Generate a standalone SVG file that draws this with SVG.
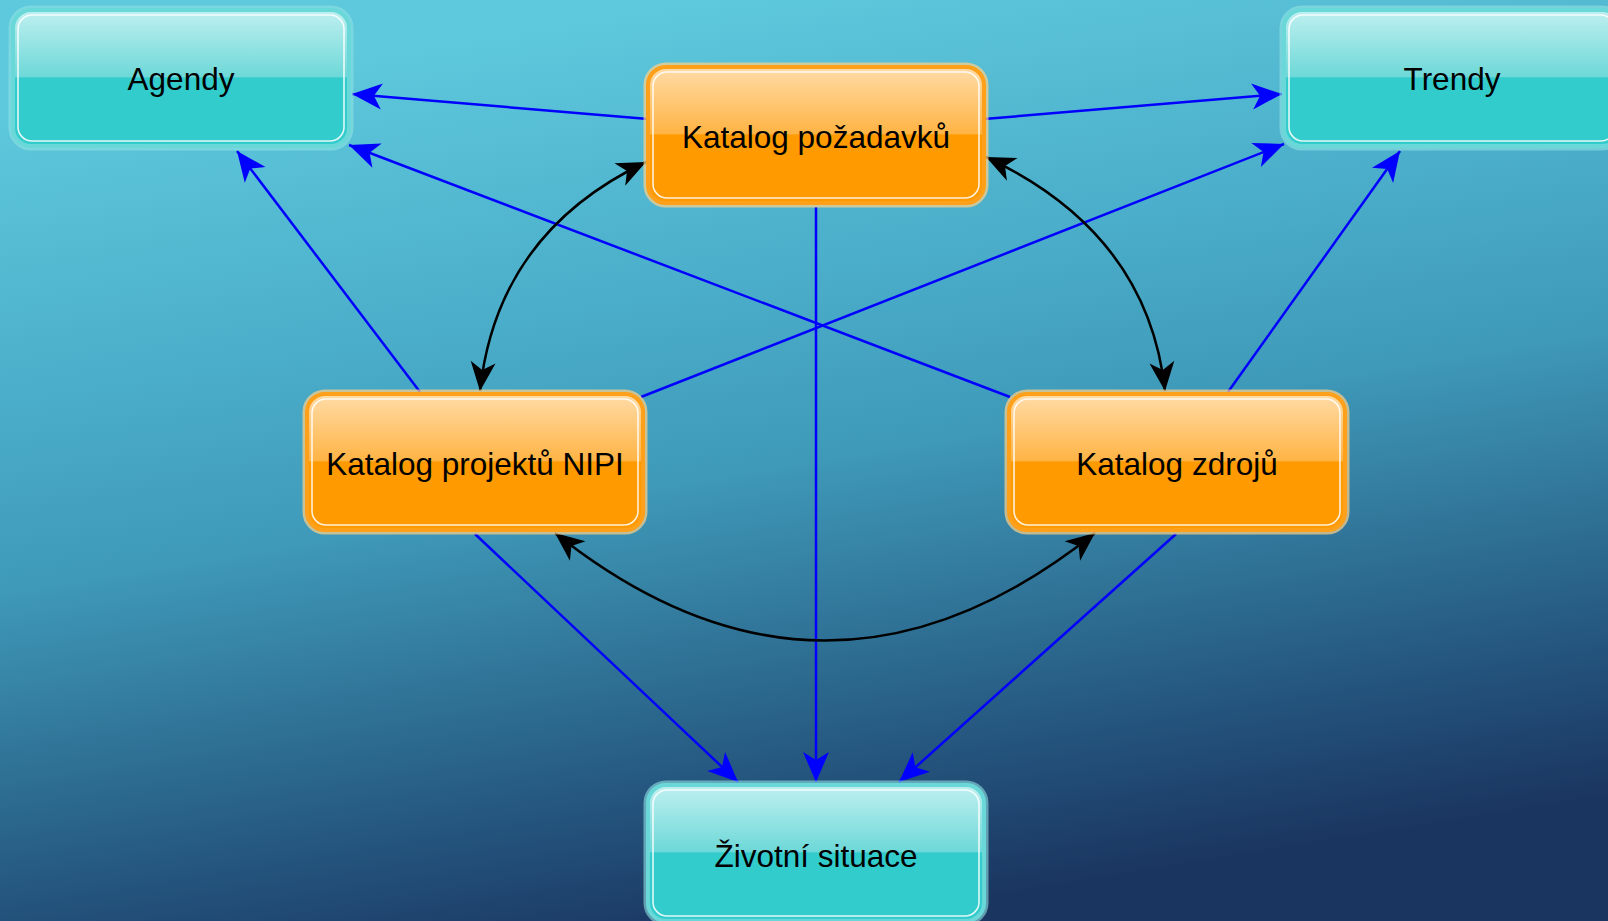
<svg xmlns="http://www.w3.org/2000/svg" width="1608" height="921" viewBox="0 0 1608 921">
  <defs>
    <linearGradient id="bg" gradientUnits="userSpaceOnUse" x1="700" y1="0" x2="850" y2="921">
      <stop offset="0" stop-color="#5ec8dc"/>
      <stop offset="0.33" stop-color="#49abc8"/>
      <stop offset="0.5" stop-color="#3f9ab9"/>
      <stop offset="0.85" stop-color="#23527b"/>
      <stop offset="1" stop-color="#1a3560"/>
    </linearGradient>
    <linearGradient id="teal" x1="0" y1="0" x2="0" y2="1">
      <stop offset="0" stop-color="#c0f0f0"/>
      <stop offset="0.49" stop-color="#6ed8d8"/>
      <stop offset="0.5" stop-color="#33cccc"/>
      <stop offset="1" stop-color="#33cccc"/>
    </linearGradient>
    <linearGradient id="orange" x1="0" y1="0" x2="0" y2="1">
      <stop offset="0" stop-color="#ffdca8"/>
      <stop offset="0.49" stop-color="#ffb445"/>
      <stop offset="0.5" stop-color="#ff9a00"/>
      <stop offset="1" stop-color="#ff9a00"/>
    </linearGradient>
    <marker id="ab" markerUnits="userSpaceOnUse" viewBox="-32 -15 34 30" refX="0" refY="0" markerWidth="34" markerHeight="30" orient="auto">
      <path d="M0,0 L-30,-13 L-22,0 L-30,13 Z" fill="#0000ff"/>
    </marker>
    <marker id="ak" markerUnits="userSpaceOnUse" viewBox="-32 -15 34 30" refX="0" refY="0" markerWidth="34" markerHeight="30" orient="auto-start-reverse">
      <path d="M0,0 L-29,-12.5 L-21,0 L-29,12.5 Z" fill="#000000"/>
    </marker>
  </defs>
  <style>
    .glowT { fill: none; stroke: #8fe3e3; stroke-width: 9; stroke-opacity: 0.6; }
    .glowO { fill: none; stroke: #ffd28a; stroke-width: 9; stroke-opacity: 0.7; }
    .boxT { fill: url(#teal); stroke: #6ad8d8; stroke-width: 4; }
    .boxO { fill: url(#orange); stroke: #ffa01a; stroke-width: 4; }
    .inner { fill: none; stroke: #ffffff; stroke-width: 1.6; stroke-opacity: 0.85; }
    .lbl { font-family: "Liberation Sans", Arial, sans-serif; font-size: 31.5px; fill: #000000; text-anchor: middle; }
    .blue { fill: none; stroke: #0000ff; stroke-width: 2.5; marker-end: url(#ab); }
    .blk { fill: none; stroke: #000000; stroke-width: 2.5; marker-start: url(#ak); marker-end: url(#ak); }
  </style>
  <rect x="0" y="0" width="1608" height="921" fill="url(#bg)"/>

  <g id="connectors">
    <line class="blue" x1="648" y1="119" x2="352" y2="94"/>
    <line class="blue" x1="984" y1="119" x2="1282" y2="94"/>
    <line class="blue" x1="1010" y1="397" x2="349" y2="145"/>
    <line class="blue" x1="641" y1="397" x2="1284" y2="144"/>
    <line class="blue" x1="420" y1="392" x2="237" y2="151"/>
    <line class="blue" x1="1228" y1="392" x2="1400" y2="151"/>
    <line class="blue" x1="816" y1="207" x2="816" y2="782"/>
    <line class="blue" x1="475" y1="534" x2="738" y2="782"/>
    <line class="blue" x1="1176" y1="534" x2="899" y2="782"/>
    <path class="blk" d="M480,391 Q497,233 646,162"/>
    <path class="blk" d="M1165,391 Q1148,233 986,157"/>
    <path class="blk" d="M555,533 Q825,748 1095,533"/>
  </g>

  <g id="agendy">
    <rect class="glowT" x="13" y="10" width="336" height="136" rx="18"/>
    <rect class="boxT" x="13" y="10" width="336" height="136" rx="18"/>
    <rect class="inner" x="18" y="15" width="326" height="126" rx="14"/>
    <text class="lbl" x="181" y="90">Agendy</text>
  </g>
  <g id="trendy">
    <rect class="glowT" x="1284" y="10" width="336" height="136" rx="18"/>
    <rect class="boxT" x="1284" y="10" width="336" height="136" rx="18"/>
    <rect class="inner" x="1289" y="15" width="326" height="126" rx="14"/>
    <text class="lbl" x="1452" y="90">Trendy</text>
  </g>
  <g id="pozadavky">
    <rect class="glowO" x="648" y="67" width="336" height="136" rx="18"/>
    <rect class="boxO" x="648" y="67" width="336" height="136" rx="18"/>
    <rect class="inner" x="653" y="72" width="326" height="126" rx="14"/>
    <text class="lbl" x="816" y="148">Katalog požadavků</text>
  </g>
  <g id="nipi">
    <rect class="glowO" x="307" y="394" width="336" height="136" rx="18"/>
    <rect class="boxO" x="307" y="394" width="336" height="136" rx="18"/>
    <rect class="inner" x="312" y="399" width="326" height="126" rx="14"/>
    <text class="lbl" x="475" y="475">Katalog projektů NIPI</text>
  </g>
  <g id="zdroje">
    <rect class="glowO" x="1009" y="394" width="336" height="136" rx="18"/>
    <rect class="boxO" x="1009" y="394" width="336" height="136" rx="18"/>
    <rect class="inner" x="1014" y="399" width="326" height="126" rx="14"/>
    <text class="lbl" x="1177" y="475">Katalog zdrojů</text>
  </g>
  <g id="zivotni">
    <rect class="glowT" x="648" y="785" width="336" height="136" rx="18"/>
    <rect class="boxT" x="648" y="785" width="336" height="136" rx="18"/>
    <rect class="inner" x="653" y="790" width="326" height="126" rx="14"/>
    <text class="lbl" x="816" y="867">Životní situace</text>
  </g>
</svg>
